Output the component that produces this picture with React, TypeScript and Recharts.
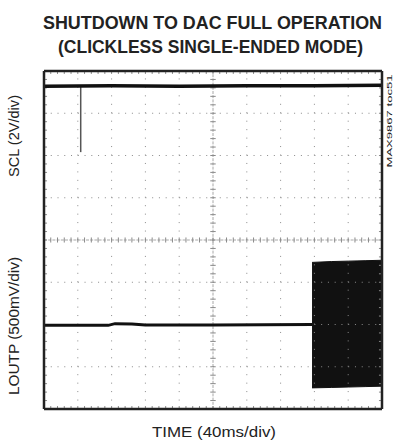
import React from "react";
import {
  ComposedChart,
  Line,
  Area,
  XAxis,
  YAxis,
  ReferenceLine,
} from "recharts";

// Time axis in divisions (40ms/div), vertical in divisions (+4 top, -4 bottom)
const sclTime = [0, 2, 4, 6, 8, 10];
const sclLevel = [3.64, 3.65, 3.64, 3.65, 3.65, 3.66];

const glitchTime = [1.086, 1.086];
const glitchLevel = [3.65, 2.08];

const loutTime = [0, 1.9, 2.1, 2.6, 3.0, 5.0, 7.93];
const loutLevel = [-2.02, -2.02, -1.98, -1.99, -2.01, -2.01, -2.0];

const oscTime = [7.93, 8.5, 9.0, 9.5, 10];
const oscHigh = [-0.53, -0.51, -0.5, -0.49, -0.48];
const oscLow = [-3.5, -3.49, -3.48, -3.47, -3.46];

const xMajor = [1, 2, 3, 4, 6, 7, 8, 9];
const yMajor = [-3, -2, -1, 1, 2, 3];

const sclData = sclTime.map((t, i) => ({ t, v: sclLevel[i] }));
const glitchData = glitchTime.map((t, i) => ({ t, v: glitchLevel[i] }));
const loutData = loutTime.map((t, i) => ({ t, v: loutLevel[i] }));
const oscData = oscTime.map((t, i) => ({ t, r: [oscLow[i], oscHigh[i]] }));

const xMinor: number[] = [];
for (let i = 1; i < 50; i++) xMinor.push(i / 5);
const yMinor: number[] = [];
for (let i = -19; i < 20; i++) yMinor.push(i / 5);

const GRID = "#8a8a8a";
const W = 394;
const H = 446;

export default function App() {
  return (
    <div style={{ position: "absolute", left: 0, top: 0, width: W, height: H, background: "#fff" }}>
      <ComposedChart
        width={W}
        height={H}
        margin={{ top: 71, right: 12, bottom: 37, left: 44 }}
      >
        <XAxis type="number" dataKey="t" domain={[0, 10]} hide allowDataOverflow />
        <YAxis type="number" domain={[-4, 4]} hide allowDataOverflow />
        {xMajor.map((x) => (
          <ReferenceLine key={"vx" + x} x={x} stroke={GRID} strokeWidth={1} strokeDasharray="1 7.45" />
        ))}
        {yMajor.map((y) => (
          <ReferenceLine key={"hy" + y} y={y} stroke={GRID} strokeWidth={1} strokeDasharray="1 5.76" />
        ))}
        <ReferenceLine x={5} stroke="#a8a8a8" strokeWidth={1} strokeDasharray="3 1.2" />
        <ReferenceLine y={0} stroke="#a8a8a8" strokeWidth={1} strokeDasharray="3 1.2" />
        {xMinor.map((x) => (
          <ReferenceLine
            key={"cx" + x}
            segment={[{ x, y: -0.06 }, { x, y: 0.06 }]}
            stroke={GRID}
            strokeWidth={1}
          />
        ))}
        {yMinor.map((y) => (
          <ReferenceLine
            key={"cy" + y}
            segment={[{ x: 4.92, y }, { x: 5.08, y }]}
            stroke={GRID}
            strokeWidth={1}
          />
        ))}
        {xMinor.map((x) => (
          <ReferenceLine key={"tx" + x} segment={[{ x, y: 4 }, { x, y: 3.93 }]} stroke={GRID} strokeWidth={1} />
        ))}
        {xMinor.map((x) => (
          <ReferenceLine key={"bx" + x} segment={[{ x, y: -4 }, { x, y: -3.93 }]} stroke={GRID} strokeWidth={1} />
        ))}
        {yMinor.map((y) => (
          <ReferenceLine key={"ly" + y} segment={[{ x: 0, y }, { x: 0.09, y }]} stroke={GRID} strokeWidth={1} />
        ))}
        {yMinor.map((y) => (
          <ReferenceLine key={"ry" + y} segment={[{ x: 10, y }, { x: 9.91, y }]} stroke={GRID} strokeWidth={1} />
        ))}
        <Area
          data={oscData}
          dataKey="r"
          type="linear"
          stroke="#111"
          strokeWidth={1}
          fill="#111"
          fillOpacity={1}
          isAnimationActive={false}
          dot={false}
          activeDot={false}
        />
        <Line data={loutData} dataKey="v" type="linear" stroke="#111" strokeWidth={3} dot={false} isAnimationActive={false} />
        <Line data={glitchData} dataKey="v" type="linear" stroke="#555" strokeWidth={1.5} dot={false} isAnimationActive={false} />
        <Line data={sclData} dataKey="v" type="linear" stroke="#111" strokeWidth={3.5} dot={false} isAnimationActive={false} />
        <ReferenceLine segment={[{ x: 0, y: 4 }, { x: 10, y: 4 }]} stroke="#222" strokeWidth={2.5} />
        <ReferenceLine segment={[{ x: 0, y: -4 }, { x: 10, y: -4 }]} stroke="#222" strokeWidth={2.5} />
        <ReferenceLine segment={[{ x: 0, y: -4 }, { x: 0, y: 4 }]} stroke="#222" strokeWidth={2.5} />
        <ReferenceLine segment={[{ x: 10, y: -4 }, { x: 10, y: 4 }]} stroke="#222" strokeWidth={2.5} />
      </ComposedChart>
      <svg
        width={W}
        height={H}
        style={{ position: "absolute", left: 0, top: 0, pointerEvents: "none" }}
        fontFamily="'Liberation Sans', Arial, sans-serif"
      >
        <text x={212.5} y={29} textAnchor="middle" fontSize={18} fontWeight="bold" fill="#222"
          textLength={339} lengthAdjust="spacingAndGlyphs">SHUTDOWN TO DAC FULL OPERATION</text>
        <text x={210.5} y={53} textAnchor="middle" fontSize={18} fontWeight="bold" fill="#222"
          textLength={305} lengthAdjust="spacingAndGlyphs">(CLICKLESS SINGLE-ENDED MODE)</text>
        <text transform="translate(19,136) rotate(-90)" textAnchor="middle" fontSize={15} fill="#222"
          textLength={82} lengthAdjust="spacingAndGlyphs">SCL (2V/div)</text>
        <text transform="translate(19,326) rotate(-90)" textAnchor="middle" fontSize={15} fill="#222"
          textLength={138} lengthAdjust="spacingAndGlyphs">LOUTP (500mV/div)</text>
        <text x={214} y={437} textAnchor="middle" fontSize={14} fill="#222"
          textLength={124} lengthAdjust="spacingAndGlyphs">TIME (40ms/div)</text>
        <text transform="translate(392,121) rotate(-90)" textAnchor="middle" fontSize={8} fill="#222"
          textLength={93} lengthAdjust="spacingAndGlyphs">MAX9867 toc51</text>
      </svg>
    </div>
  );
}
